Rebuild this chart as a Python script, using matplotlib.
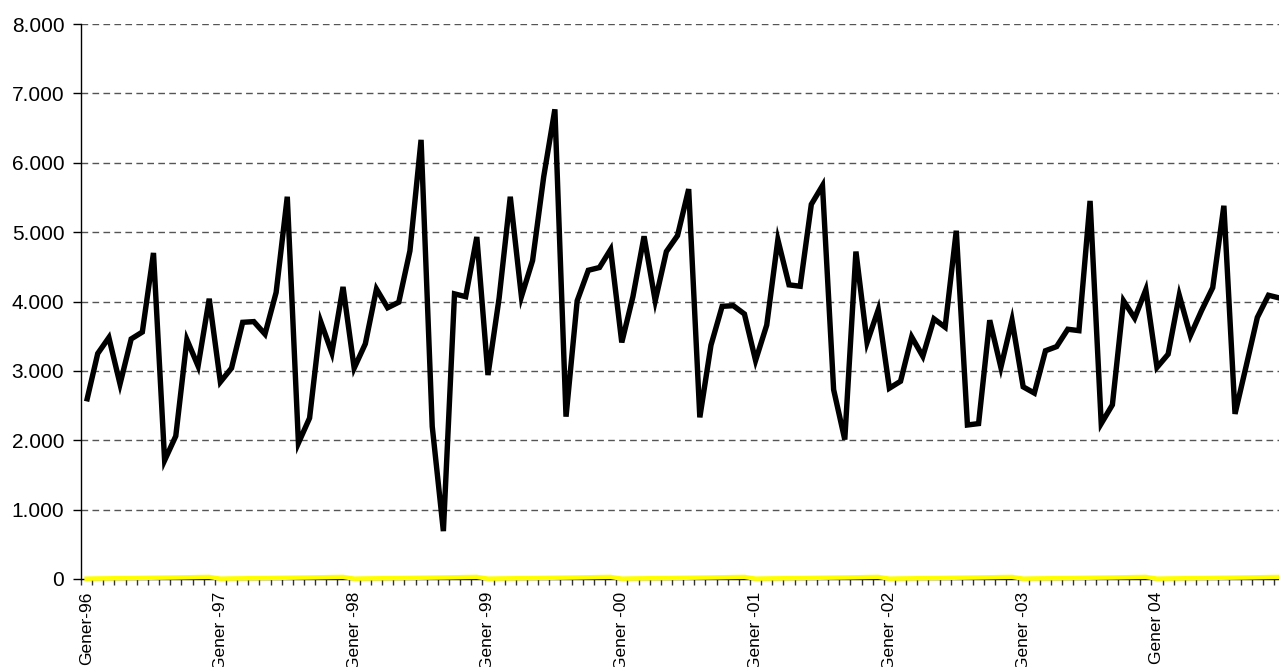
import matplotlib
matplotlib.use("Agg")
import matplotlib.pyplot as plt
from matplotlib.ticker import FixedLocator, FuncFormatter

# Monthly values, Jan 1996 .. Dec 2004 (thousands)
values_1996 = [2.56, 3.25, 3.48, 2.81, 3.46, 3.56, 4.70, 1.71, 2.06, 3.45, 3.07, 4.04]
values_1997 = [2.84, 3.04, 3.70, 3.71, 3.53, 4.13, 5.51, 1.96, 2.32, 3.71, 3.26, 4.21]
values_1998 = [3.04, 3.39, 4.18, 3.91, 3.99, 4.73, 6.33, 2.20, 0.69, 4.11, 4.07, 4.93]
values_1999 = [2.94, 4.05, 5.51, 4.07, 4.59, 5.80, 6.77, 2.34, 4.01, 4.45, 4.49, 4.75]
values_2000 = [3.41, 4.07, 4.94, 4.01, 4.72, 4.95, 5.62, 2.33, 3.37, 3.93, 3.94, 3.82]
values_2001 = [3.15, 3.66, 4.89, 4.24, 4.22, 5.40, 5.67, 2.73, 2.01, 4.72, 3.41, 3.88]
values_2002 = [2.75, 2.85, 3.49, 3.21, 3.75, 3.63, 5.02, 2.22, 2.24, 3.73, 3.05, 3.73]
values_2003 = [2.77, 2.68, 3.29, 3.35, 3.60, 3.58, 5.45, 2.24, 2.51, 4.01, 3.76, 4.17]
values_2004 = [3.05, 3.24, 4.09, 3.51, 3.87, 4.20, 5.38, 2.38, 3.07, 3.77, 4.09, 4.05]

main_series = (values_1996 + values_1997 + values_1998 + values_1999 + values_2000
               + values_2001 + values_2002 + values_2003 + values_2004)
main_series = [v * 1000 for v in main_series]

# Second (near-zero) series drawn in yellow
minor_series = [
    5, 8, 10, 12, 14, 16, 18, 20, 22, 25, 28, 30,
    5, 8, 10, 12, 14, 16, 18, 20, 22, 25, 28, 30,
    5, 8, 10, 12, 14, 16, 18, 20, 22, 25, 28, 30,
    5, 8, 10, 12, 14, 16, 18, 20, 22, 25, 28, 30,
    5, 8, 10, 12, 14, 16, 18, 20, 22, 25, 28, 30,
    5, 8, 10, 12, 14, 16, 18, 20, 22, 25, 28, 30,
    5, 8, 10, 12, 14, 16, 18, 20, 22, 25, 28, 30,
    5, 8, 10, 12, 14, 16, 18, 20, 22, 25, 28, 30,
    5, 8, 10, 12, 14, 16, 18, 20, 22, 25, 28, 30,
]

year_labels = ["Gener-96", "Gener -97", "Gener -98", "Gener -99", "Gener -00",
               "Gener -01", "Gener -02", "Gener -03", "Gener 04"]
y_ticks = [0, 1000, 2000, 3000, 4000, 5000, 6000, 7000, 8000]

plt.rcParams['font.family'] = ['Liberation Sans', 'DejaVu Sans']

W, H = 1279, 667
fig = plt.figure(figsize=(W / 100, H / 100), dpi=100)
n = len(main_series)
px_per_month = 11.15
left_px, right_px = 81, 81 + n * px_per_month
top_px, bottom_px = 24, 579
ax = fig.add_axes([left_px / W, (H - bottom_px) / H,
                   (right_px - left_px) / W, (bottom_px - top_px) / H])

x = list(range(n))
ax.set_xlim(-0.5, n - 0.5)
ax.set_ylim(0, 8000)

for t in y_ticks[1:]:
    ax.axhline(t, color="#555555", lw=1.0, linestyle=(0, (4.8, 3.1)), zorder=1)

ax.plot(x, minor_series, color="#ffff00", lw=3.2, zorder=3, clip_on=False)
ax.plot(x, main_series, color="black", lw=3.9, zorder=4,
        solid_joinstyle="miter", solid_capstyle="butt")

ax.spines["top"].set_visible(False)
ax.spines["right"].set_visible(False)
ax.spines["left"].set_linewidth(1.0)
ax.spines["bottom"].set_linewidth(1.0)
ax.spines["bottom"].set_color("black")
ax.spines["bottom"].set_zorder(2)

ax.yaxis.set_major_locator(FixedLocator(y_ticks))
ax.yaxis.set_major_formatter(FuncFormatter(
    lambda v, p: "0" if v == 0 else f"{int(v):,}".replace(",", ".")))
ax.tick_params(axis="y", direction="out", length=6, width=1, labelsize=15, pad=6)

label_pos = [12 * i for i in range(len(year_labels))]
ax.set_xticks(label_pos)
ax.set_xticklabels(year_labels, rotation=90, fontsize=12.5, va="top", ha="center")
ax.tick_params(axis="x", which="major", length=0, pad=9)
ax.set_xticks([k - 0.5 for k in range(n + 1)], minor=True)
ax.tick_params(axis="x", which="minor", direction="out", length=4, width=1, color="#333333")

fig.savefig("out.png", dpi=100)
